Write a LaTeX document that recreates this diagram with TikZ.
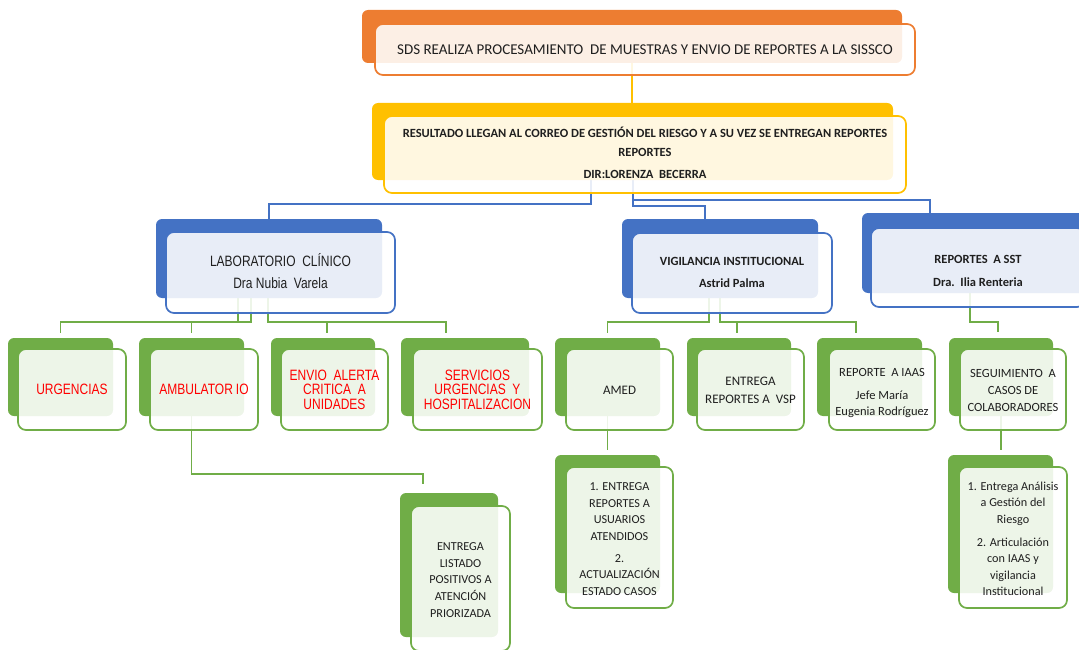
\documentclass[tikz,border=0pt]{standalone}
\usepackage{fontspec}
\setmainfont{Carlito}
\newfontfamily\arialn[FakeStretch=0.8]{Liberation Sans}
\usetikzlibrary{fit,calc}
\definecolor{cor}{HTML}{ED7D31}
\definecolor{cye}{HTML}{FFC000}
\definecolor{cbl}{HTML}{4472C4}
\definecolor{cgr}{HTML}{70AD47}
\definecolor{ctx}{HTML}{1F1F1F}
\definecolor{cred}{HTML}{FF0000}
\pgfdeclarelayer{bg}
\pgfsetlayers{bg,main}
\tikzset{
 backbox/.style={fill=#1, rounded corners=6pt, inner sep=0pt, outer sep=0pt},
 frontbox/.style={draw=#1, line width=1.7pt, fill=white, fill opacity=.88,
   rounded corners=8pt, inner sep=0pt, outer sep=0pt},
 txt/.style={align=center, text=ctx, inner sep=0pt},
 conn/.style={draw=#1, line width=1.6pt},
 redtxt/.style={txt, text=cred, font=\arialn\fontsize{15}{14.5}\selectfont},
 subtxt/.style={txt, font=\fontsize{12.2}{16.6}\selectfont},
}
\begin{document}
\begin{tikzpicture}[x=1pt,y=-1pt]
\useasboundingbox (0,0) rectangle (1079,650);
\clip (0,0) rectangle (1079,650);
% top
\node[backbox=cor, fit={(362,10)(902,63)}] (topb) {};
\node[frontbox=cor, fit={(375,24)(915,75)}] (top) {};
\node[txt, font=\fontsize{15}{17}\selectfont] (topt) at (top.center)
 {SDS REALIZA PROCESAMIENTO\ \ DE MUESTRAS Y ENVIO DE REPORTES A LA SISSCO};
% second
\node[backbox=cye, fit={(372,103)(893,180)}] (resb) {};
\node[frontbox=cye, fit={(384,116)(906,193)}] (res) {};
\node[txt, font=\bfseries\fontsize{12.5}{19}\selectfont] (rest) at ([yshift=1.5pt]res.center)
 {RESULTADO LLEGAN AL CORREO DE GESTIÓN DEL RIESGO Y A SU VEZ SE ENTREGAN REPORTES\\REPORTES\\[3pt]DIR:LORENZA\ \ BECERRA};
% level 2
\node[backbox=cbl, fit={(156,219)(382,298)}] (labb) {};
\node[frontbox=cbl, fit={(166,232)(395,313)}] (lab) {};
\node[txt, font=\arialn\fontsize{15}{22}\selectfont] (labt) at ([yshift=1pt]lab.center)
 {LABORATORIO\ \ CLÍNICO\\Dra Nubia\ \ Varela};
\node[backbox=cbl, fit={(622,219)(818,298)}] (vigb) {};
\node[frontbox=cbl, fit={(632,233)(832,313)}] (vig) {};
\node[txt, font=\bfseries\fontsize{12.5}{22}\selectfont] (vigt) at ([yshift=1pt]vig.center)
 {VIGILANCIA INSTITUCIONAL\\Astrid Palma};
\node[backbox=cbl, fit={(862,213)(1095,293)}] (sstb) {};
\node[frontbox=cbl, fit={(871,228)(1085,307)}] (sst) {};
\node[txt, font=\bfseries\fontsize{12.5}{23}\selectfont] (sstt) at ([yshift=-3pt]sst.center)
 {REPORTES\ \ A SST\\Dra.\ \ Ilia Renteria};
% level 3
\node[backbox=cgr, fit={(8,338)(113,416)}] (urgb) {};
\node[frontbox=cgr, fit={(18,349)(126,430)}] (urg) {};
\node[redtxt] (urgt) at (urg.center) {URGENCIAS};
\node[backbox=cgr, fit={(139,338)(244,416)}] (ambb) {};
\node[frontbox=cgr, fit={(150,349)(258,430)}] (amb) {};
\node[redtxt] (ambt) at (amb.center) {AMBULATOR\hspace{3pt}IO};
\node[backbox=cgr, fit={(271,338)(375,416)}] (envb) {};
\node[frontbox=cgr, fit={(281,349)(388,430)}] (env) {};
\node[redtxt] (envt) at (env.center) {ENVIO\ \ ALERTA\\CRITICA\ \ A\\UNIDADES};
\node[backbox=cgr, fit={(401,338)(529,416)}] (servb) {};
\node[frontbox=cgr, fit={(413,349)(542,430)}] (serv) {};
\node[redtxt] (servt) at (serv.center) {SERVICIOS\\URGENCIAS\ \ Y\\HOSPITALIZACION};
\node[backbox=cgr, fit={(555,338)(660,416)}] (amedb) {};
\node[frontbox=cgr, fit={(566,349)(673,430)}] (amed) {};
\node[txt, font=\fontsize{13}{18}\selectfont] (amedt) at ([yshift=-1pt]amed.center) {AMED};
\node[backbox=cgr, fit={(687,338)(791,416)}] (entb) {};
\node[frontbox=cgr, fit={(697,349)(804,430)}] (ent) {};
\node[txt, font=\fontsize{13}{18}\selectfont] (entt) at ([yshift=-1pt]ent.center) {ENTREGA\\REPORTES A\ \ VSP};
\node[backbox=cgr, fit={(817,338)(922,416)}] (iaasb) {};
\node[frontbox=cgr, fit={(829,349)(935,430)}] (iaas) {};
\node[txt, font=\fontsize{12.5}{16}\selectfont] (iaast) at ([yshift=-3.5pt]iaas.center)
 {REPORTE\ \ A IAAS\\[7pt]Jefe María\\Eugenia Rodríguez};
\node[backbox=cgr, fit={(949,338)(1053,416)}] (segb) {};
\node[frontbox=cgr, fit={(960,349)(1066,430)}] (seg) {};
\node[txt, font=\fontsize{12.5}{17}\selectfont] (segt) at ([yshift=-1pt]seg.center)
 {SEGUIMIENTO\ \ A\\CASOS DE\\COLABORADORES};
% level 4
\node[backbox=cgr, fit={(400,493)(498,637)}] (listb) {};
\node[frontbox=cgr, fit={(411,506)(510,651)}] (list) {};
\node[subtxt] (listt) at ([yshift=-1.5pt]list.center)
 {ENTREGA\\LISTADO\\POSITIVOS A\\ATENCIÓN\\PRIORIZADA};
\node[backbox=cgr, fit={(555,455)(660,593)}] (amedsb) {};
\node[frontbox=cgr, fit={(566,467)(673,608)}] (ameds) {};
\node[subtxt] (amedst) at ([yshift=-1.5pt]ameds.center)
 {1. ENTREGA\\REPORTES A\\USUARIOS\\ATENDIDOS\\[5pt]2.\\ACTUALIZACIÓN\\ESTADO CASOS};
\node[backbox=cgr, fit={(948,455)(1053,593)}] (segsb) {};
\node[frontbox=cgr, fit={(959,467)(1067,608)}] (segs) {};
\node[subtxt] (segst) at ([yshift=-1.5pt]segs.center)
 {1. Entrega Análisis\\a Gestión del\\Riesgo\\[6pt]2. Articulación\\con IAAS y\\vigilancia\\Institucional};
% connectors
\begin{pgfonlayer}{bg}
\draw[conn=cye] (topb.south) -- (topb.south |- resb.north);
\draw[conn=cbl] ([xshift=-41.5pt]resb.south) -- ++(0,24) -| (labb.north);
\draw[conn=cbl] ([xshift=0.5pt]resb.south) -- ++(0,26) -| ([xshift=-15pt]vigb.north);
\draw[conn=cbl] ([xshift=0.5pt]resb.south) -- ++(0,20) -| ([xshift=68pt]sstb.north west);
\draw[conn=cgr] ([xshift=-31pt]labb.south) -- ++(0,24) -| ([yshift=5pt]urgb.north);
\draw[conn=cgr] ([xshift=-18pt]labb.south) -- ++(0,24) -| ([yshift=5pt]ambb.north);
\draw[conn=cgr] ([xshift=-1pt]labb.south) -- ++(0,24) -| ([xshift=4pt,yshift=5pt]envb.north);
\draw[conn=cgr] ([xshift=-1pt]labb.south) -- ++(0,24) -| ([xshift=-19pt,yshift=5pt]servb.north);
\draw[conn=cgr] ([xshift=-11pt]vigb.south) -- ++(0,24) -| ([yshift=5pt]amedb.north);
\draw[conn=cgr] (vigb.south) -- ++(0,24) -| ([xshift=-2pt,yshift=5pt]entb.north);
\draw[conn=cgr] (vigb.south) -- ++(0,24) -| ([xshift=-13.5pt,yshift=5pt]iaasb.north);
\draw[conn=cgr] ([xshift=-8.5pt]sstb.south) -- ++(0,29) -| ([xshift=-3pt,yshift=6pt]segb.north);
\draw[conn=cgr] (ambb.south) -- ++(0,58) -| ([xshift=-26pt,yshift=9pt]listb.north);
\draw[conn=cgr] (amedb.south) -- ([yshift=5pt]amedsb.north);
\draw[conn=cgr] (segb.south) -- ([yshift=5pt]segb.south |- segsb.north);
\end{pgfonlayer}
\end{tikzpicture}
\end{document}
